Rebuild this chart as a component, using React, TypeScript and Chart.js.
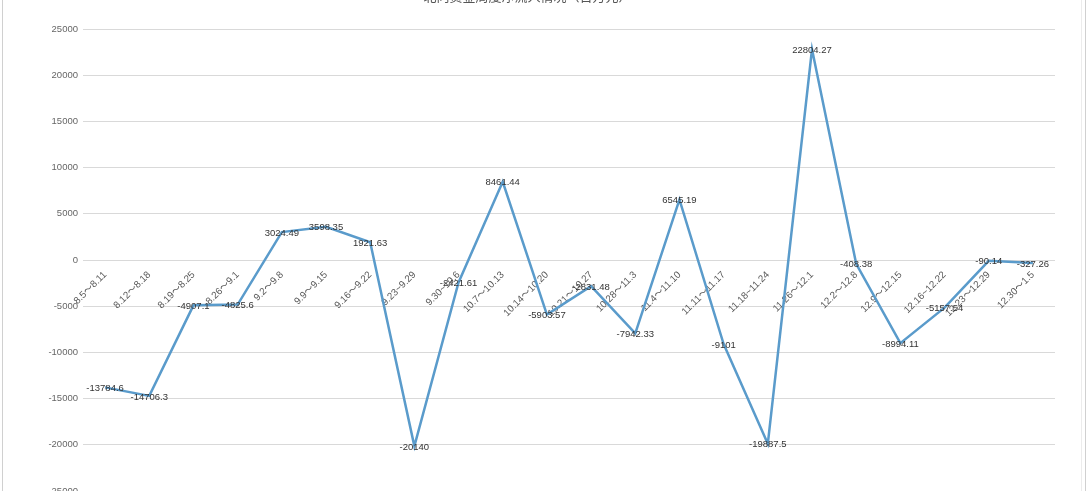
import React, { useEffect, useRef } from "react";
import { Chart, registerables } from "chart.js";

Chart.register(...registerables);

const TITLE = "北向资金周度净流入情况（百万元）";

const categories = [
  "8.5～8.11", "8.12～8.18", "8.19～8.25", "8.26～9.1", "9.2～9.8", "9.9～9.15",
  "9.16～9.22", "9.23~9.29", "9.30~10.6", "10.7～10.13", "10.14～10.20", "10.21～10.27",
  "10.28～11.3", "11.4～11.10", "11.11～11.17", "11.18~11.24", "11.26～12.1", "12.2～12.8",
  "12.9～12.15", "12.16~12.22", "12.23～12.29", "12.30～1.5",
];

const values = [
  -13784.6, -14706.3, -4907.1, -4825.6, 3024.49, 3598.35,
  1921.63, -20140, -2421.61, 8461.44, -5903.57, -2831.48,
  -7942.33, 6545.19, -9101, -19887.5, 22804.27, -408.38,
  -8994.11, -5157.54, -90.14, -327.26,
];

const yTicks = { min: -25000, max: 25000, step: 5000 };

const FONT = 'Arial, "Liberation Sans", "Noto Sans CJK SC", sans-serif';

const valueLabels = {
  id: "valueLabels",
  afterDatasetsDraw(chart: any) {
    const ctx = chart.ctx;
    const meta = chart.getDatasetMeta(0);
    ctx.save();
    ctx.font = `9.5px ${FONT}`;
    ctx.fillStyle = "#333";
    ctx.textAlign = "center";
    ctx.textBaseline = "middle";
    meta.data.forEach((pt: any, i: number) => {
      ctx.fillText(String(values[i]), pt.x, pt.y + 1);
    });
    ctx.restore();
  },
};

export default function App() {
  const ref = useRef<HTMLCanvasElement>(null);
  useEffect(() => {
    if (!ref.current) return;
    const chart = new Chart(ref.current, {
      type: "line",
      data: {
        labels: categories,
        datasets: [
          {
            data: values,
            borderColor: "#5a9bcb",
            borderWidth: 2.5,
            pointRadius: 0,
            tension: 0,
            fill: false,
          },
        ],
      },
      options: {
        animation: false,
        responsive: true,
        maintainAspectRatio: false,
        layout: { padding: { left: 0, right: 31, top: 0, bottom: 19 } },
        plugins: {
          legend: { display: false },
          tooltip: { enabled: false },
          title: {
            display: true,
            text: TITLE,
            color: "#555",
            font: { size: 13, family: FONT, weight: "normal" },
            padding: { top: 9.4, bottom: 24 },
          },
        },
        scales: {
          x: {
            position: { y: 0 } as any,
            offset: true,
            grid: { display: false },
            border: { display: false },
            ticks: {
              autoSkip: false,
              minRotation: 45,
              maxRotation: 45,
              padding: 1,
              color: "#555",
              font: { size: 9.8, family: FONT },
            },
          },
          y: {
            min: yTicks.min,
            max: yTicks.max,
            border: { display: false },
            grid: { color: "#d9d9d9", drawTicks: false },
            afterFit: (axis: any) => {
              axis.width = 83;
            },
            ticks: {
              stepSize: yTicks.step,
              padding: 5,
              color: "#666",
              font: { size: 9.5, family: FONT },
              callback: (v: any) => String(v),
            },
          },
        },
      },
      plugins: [valueLabels],
    });
    return () => chart.destroy();
  }, []);

  return (
    <div style={{ position: "absolute", left: 0, top: 0, width: 1086, height: 491, overflow: "hidden", background: "#fff" }}>
      <div style={{ position: "absolute", left: 0, top: -20, width: 1086, height: 530 }}>
        <canvas ref={ref} />
      </div>
      <div style={{ position: "absolute", left: 2, top: 0, width: 1, height: 491, background: "#d0d0d0" }} />
      <div style={{ position: "absolute", left: 1081, top: 0, width: 1, height: 491, background: "#ececec" }} />
      <div style={{ position: "absolute", left: 1085, top: 0, width: 1, height: 491, background: "#d0d0d0" }} />
    </div>
  );
}
